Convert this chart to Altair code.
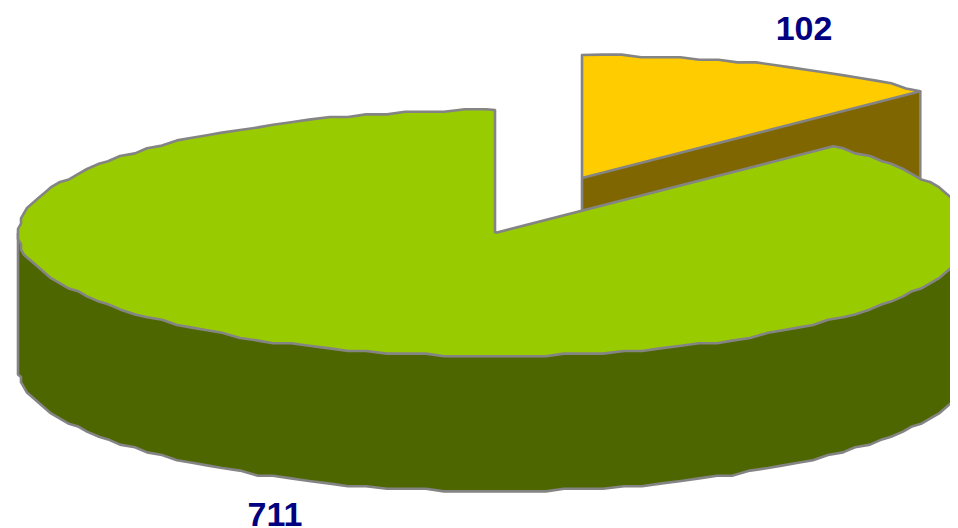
import math
import altair as alt
import pandas as pd

# Chart values
slice_values = [711, 102]
slice_labels = ["711", "102"]
top_colors = ["#99cc00", "#ffcc00"]
wall_colors = ["#4d6600", "#806600"]
edge_color = "#848484"
label_color = "#000080"

# Pie geometry (pixels of the reference picture)
RX, RY, DEPTH = 477, 123, 135
GREEN_C = (495, 233)
ORANGE_C = (582, 178)
STEP_X, STEP_Y = 3.0, 2.6

theta = 360 * slice_values[1] / sum(slice_values)
sin_t, cos_t = math.sin(math.radians(theta)), math.cos(math.radians(theta))


def qx(v):
    return round(v / STEP_X) * STEP_X


def qy(v):
    return round(v / STEP_Y) * STEP_Y


X = alt.X("x:Q", scale=alt.Scale(domain=[8, 950]), axis=None)
Y = alt.Y("ya:Q", scale=alt.Scale(domain=[528, 8]), axis=None)


def area(rows, color):
    df = pd.DataFrame(rows, columns=["x", "ya", "yb"]).sort_values("x")
    return alt.Chart(df).mark_area(
        fill=color, clip=True, interpolate="linear", orient="vertical",
        fillOpacity=1, opacity=1,
    ).encode(x=X, y=Y, y2=alt.Y2("yb"))


def line(points):
    df = pd.DataFrame(points, columns=["x", "ya"]).assign(i=lambda d: range(len(d)))
    return alt.Chart(df).mark_line(
        color=edge_color, strokeWidth=2.6, clip=True, interpolate="linear", strokeJoin="round"
    ).encode(x=X, y=Y, order="i:Q")


def angles(a, b, step=2.4):
    n = max(1, round((b - a) / step))
    return [a + (b - a) * k / n for k in range(n + 1)]


# Orange slice
ocx, ocy = ORANGE_C
ox1, oy1 = ocx + RX * sin_t, ocy - RY * cos_t


def o_line(x):
    return ocy + (oy1 - ocy) * (x - ocx) / (ox1 - ocx)


orange_rows = []
for a in angles(0, theta):
    x = ocx + RX * math.sin(math.radians(a))
    orange_rows.append((x, qy(ocy - RY * math.cos(math.radians(a))), o_line(x)))
orange_rows[0] = (ocx, ocy - RY, ocy)
orange_rows[-1] = (ox1, oy1, oy1)
orange_outline = [(ocx, ocy)] + [(r[0], r[1]) for r in orange_rows] + [(ocx, ocy)]
orange_wall_rows = [(ocx, ocy, ocy + DEPTH), (ox1, oy1, oy1 + DEPTH)]
orange_wall_lines = [(ocx, ocy), (ocx, ocy + DEPTH), (ox1, oy1 + DEPTH), (ox1, oy1)]

# Green slice
gcx, gcy = GREEN_C
gx1, gy1 = gcx + RX * sin_t, gcy - RY * cos_t


def g_line(x):
    return gcy + (gy1 - gcy) * (x - gcx) / (gx1 - gcx)


def low_y(x):
    return gcy + RY * math.sqrt(max(0, 1 - ((x - gcx) / RX) ** 2))


top_rows, wall_rows, bottom_arc, wall_arc, top_left, top_right = [], [], [], [], [], []
for a in angles(-90, 90):
    x = qx(gcx + RX * math.sin(math.radians(a)))
    dy = RY * math.cos(math.radians(a))
    low, up = qy(gcy + dy), qy(gcy - dy)
    low2 = qy(gcy + dy + DEPTH)
    wall_rows.append((x, low, low2))
    bottom_arc.append((x, low))
    wall_arc.append((x, low2))
    if x < gcx:
        top_rows.append((x, up, low))
        top_left.append((x, up))
    elif x > gx1:
        top_rows.append((x, up, low))
        top_right.append((x, up))
    elif x > gcx:
        top_rows.append((x, g_line(x), low))

# The notch: the upper edge drops straight down at the centre and climbs to the cut
top_rows += [
    (gcx - 0.01, gcy - RY, low_y(gcx)),
    (gcx, gcy, low_y(gcx)),
    (gx1, gy1, low_y(gx1)),
]
top_rows.sort(key=lambda r: r[0])

green_outline = (
    [(gcx, gcy), (gcx, gcy - RY)]
    + top_left[::-1]
    + bottom_arc
    + top_right[::-1]
    + [(gx1, gy1), (gcx, gcy)]
)
green_wall_outline = [(bottom_arc[0][0], gcy)] + wall_arc

labels = pd.DataFrame({"x": [275, 804], "ya": [516, 29.5], "t": slice_labels})
text = alt.Chart(labels).mark_text(
    font="Liberation Sans", fontWeight="bold", fontSize=34, color=label_color,
    align="center", baseline="middle",
).encode(x=X, y=Y, text="t:N")

chart = alt.layer(
    area(orange_wall_rows, wall_colors[1]),
    line(orange_wall_lines),
    area(orange_rows, top_colors[1]),
    line(orange_outline),
    area(wall_rows, wall_colors[0]),
    line(green_wall_outline),
    area(top_rows, top_colors[0]),
    line(green_outline),
    text,
).properties(
    width=942, height=520, padding=0, autosize=alt.AutoSizeParams(type="none")
).configure_view(stroke=None)

chart.save("out.html", embed_options={"renderer": "svg", "actions": False})
